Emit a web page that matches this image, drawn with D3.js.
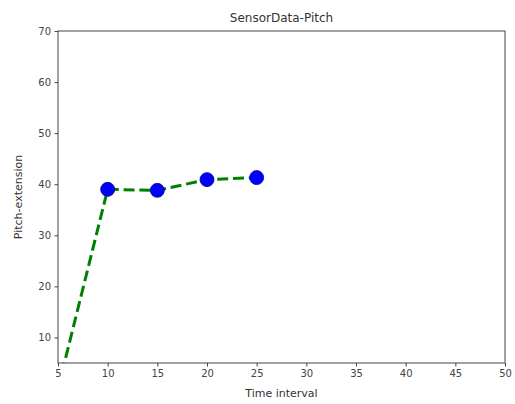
<!DOCTYPE html>
<html>
<head>
<meta charset="utf-8">
<script src="https://cdn.jsdelivr.net/npm/d3@7"></script>
<style>
  body { margin: 0; background: #fff; }
  text { font-family: "DejaVu Sans", sans-serif; fill: #333; }
</style>
</head>
<body>
<div id="chart"></div>
<script>
// data
var timeVals = [5, 10, 15, 20, 25];
var pitchVals = [0, 39, 38.8, 40.9, 41.3];
var xTicks = [5, 10, 15, 20, 25, 30, 35, 40, 45, 50];
var yTicks = [10, 20, 30, 40, 50, 60, 70];

var W = 515, H = 404;
var margin = { top: 31, right: 10, bottom: 41, left: 58 };
var width = W - margin.left - margin.right,
    height = H - margin.top - margin.bottom;

var svg = d3.select("#chart").append("svg")
  .attr("width", W)
  .attr("height", H);

var g = svg.append("g")
  .attr("transform", "translate(" + margin.left + "," + margin.top + ")");

var x = d3.scaleLinear().domain([5, 50]).range([0, width]);
var y = d3.scaleLinear().domain([5, 70]).range([height, 0]);

svg.append("defs").append("clipPath").attr("id", "clip")
  .append("rect").attr("width", width).attr("height", height);

// axes
var xAxis = g.append("g")
  .attr("transform", "translate(0," + height + ")")
  .call(d3.axisBottom(x).tickValues(xTicks).tickSize(3.5).tickPadding(3.5));
var yAxis = g.append("g")
  .call(d3.axisLeft(y).tickValues(yTicks).tickSize(3.5).tickPadding(3.5));

[xAxis, yAxis].forEach(function(a) {
  a.select(".domain").remove();
  a.selectAll("line").attr("stroke", "#444");
  a.selectAll("text").attr("font-size", 10).style("fill", "#444")
    .attr("font-family", "DejaVu Sans, sans-serif");
});

var points = timeVals.map(function(t, i) { return { t: t, v: pitchVals[i] }; });

var plot = g.append("g").attr("clip-path", "url(#clip)");

var line = d3.line()
  .x(function(d) { return x(d.t); })
  .y(function(d) { return y(d.v); });

plot.append("path")
  .datum(points)
  .attr("d", line)
  .attr("fill", "none")
  .attr("stroke", "#008000")
  .attr("stroke-width", 3)
  .attr("stroke-dasharray", "11,4.8");

plot.selectAll("circle")
  .data(points)
  .enter().append("circle")
  .attr("cx", function(d) { return x(d.t); })
  .attr("cy", function(d) { return y(d.v); })
  .attr("r", 7)
  .attr("fill", "#0000ff")
  .attr("stroke", "#00008b")
  .attr("stroke-width", 0.8);

// frame
g.append("rect")
  .attr("width", width)
  .attr("height", height)
  .attr("fill", "none")
  .attr("stroke", "#444")
  .attr("stroke-width", 1);

// labels
svg.append("text")
  .attr("x", margin.left + width / 2)
  .attr("y", 22)
  .attr("text-anchor", "middle")
  .attr("font-size", 12)
  .text("SensorData-Pitch");

svg.append("text")
  .attr("x", margin.left + width / 2)
  .attr("y", 397)
  .attr("text-anchor", "middle")
  .attr("font-size", 11)
  .text("Time interval");

svg.append("text")
  .attr("transform", "translate(22," + (margin.top + height / 2) + ") rotate(-90)")
  .attr("text-anchor", "middle")
  .attr("font-size", 11)
  .text("Pitch-extension");
</script>
</body>
</html>
